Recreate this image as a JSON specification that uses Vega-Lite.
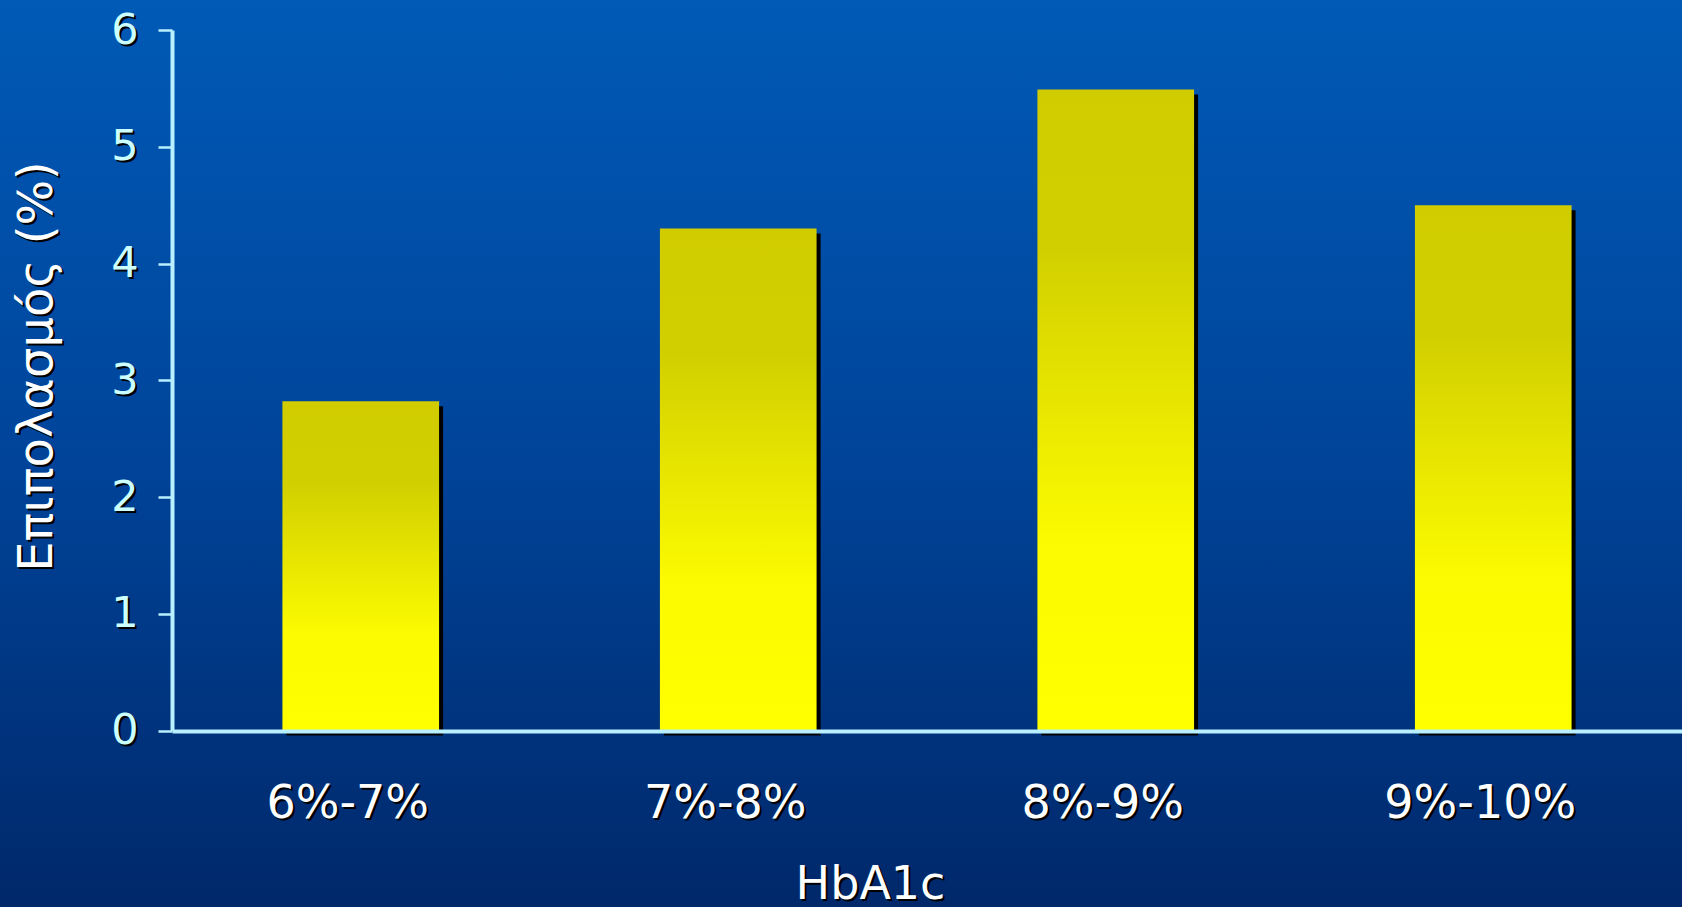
{
  "$schema": "https://vega.github.io/schema/vega-lite/v6.json",
  "width": 1682,
  "height": 907,
  "autosize": {"type": "none"},
  "padding": 0,
  "background": "#003f8c",
  "config": {
    "view": {"stroke": null},
    "font": "DejaVu Sans"
  },
  "datasets": {
    "bars": [
      {"hba1c": "6%-7%", "prevalence": 2.82},
      {"hba1c": "7%-8%", "prevalence": 4.3},
      {"hba1c": "8%-9%", "prevalence": 5.49},
      {"hba1c": "9%-10%", "prevalence": 4.5}
    ]
  },
  "resolve": {"axis": {"x": "independent", "y": "independent"}},
  "layer": [
    {
      "data": {"values": [{}]},
      "mark": {
        "type": "rect",
        "fill": {
          "gradient": "linear", "x1": 0, "y1": 0, "x2": 0, "y2": 1,
          "stops": [
            {"offset": 0, "color": "#005AB6"},
            {"offset": 0.5, "color": "#00449A"},
            {"offset": 1, "color": "#00286A"}
          ]
        }
      },
      "encoding": {}
    },
    {
      "data": {"name": "bars"},
      "mark": {"type": "bar", "color": "#000000", "xOffset": 4, "yOffset": 5},
      "encoding": {
        "x": {
          "field": "hba1c", "type": "nominal", "sort": null,
          "scale": {"range": [172, 1682], "paddingInner": 0.585, "paddingOuter": 0.2925},
          "axis": {
            "orient": "bottom",
            "offset": -176,
            "zindex": 1,
            "domain": false,
            "ticks": false,
            "tickSize": 0,
            "bandPosition": 0.5,
            "labelAngle": 0,
            "labelAlign": "center",
            "labelLimit": 500,
            "labelColor": "#000000",
            "labelFont": "DejaVu Sans",
            "labelFontSize": 46,
            "labelBaseline": "alphabetic",
            "labelPadding": 88,
            "labelOffset": -11,
            "title": "HbA1c",
            "titleColor": "#000000",
            "titleFont": "DejaVu Sans",
            "titleFontSize": 46,
            "titleFontWeight": "normal",
            "titleX": 872,
            "titleY": 169,
            "titleBaseline": "alphabetic",
            "titleAlign": "center"
          }
        },
        "y": {
          "field": "prevalence", "type": "quantitative",
          "scale": {"domain": [0, 6], "range": [730.5, 30], "nice": false},
          "axis": {
            "orient": "left",
            "offset": -172,
            "zindex": 1,
            "values": [0, 1, 2, 3, 4, 5, 6],
            "format": "d",
            "grid": false,
            "domain": false,
            "tickOpacity": 0,
            "tickSize": 14,
            "labelColor": "#000000",
            "labelFont": "DejaVu Sans",
            "labelFontSize": 43,
            "labelPadding": 18,
            "labelOffset": 2,
            "title": "Επιπολασμός (%)",
            "titleColor": "#000000",
            "titleFont": "DejaVu Sans",
            "titleFontSize": 48,
            "titleFontWeight": "normal",
            "titleAngle": -90,
            "titleX": -119,
            "titleY": 368,
            "titleBaseline": "alphabetic",
            "titleAlign": "center"
          }
        }
      }
    },
    {
      "data": {"name": "bars"},
      "mark": {
        "type": "bar",
        "fill": {
          "gradient": "linear", "x1": 0, "y1": 0, "x2": 0, "y2": 1,
          "stops": [
            {"offset": 0, "color": "#D0CC00"},
            {"offset": 0.25, "color": "#D2CF00"},
            {"offset": 0.7, "color": "#FBFA00"},
            {"offset": 1, "color": "#FFFF00"}
          ]
        }
      },
      "encoding": {
        "x": {
          "field": "hba1c", "type": "nominal", "sort": null,
          "axis": {
            "orient": "bottom",
            "offset": -176,
            "zindex": 1,
            "domainColor": "#B8F0FF",
            "domainWidth": 4,
            "ticks": false,
            "tickSize": 0,
            "bandPosition": 0.5,
            "labelAngle": 0,
            "labelAlign": "center",
            "labelLimit": 500,
            "labelColor": "#FFFFFF",
            "labelFont": "DejaVu Sans",
            "labelFontSize": 46,
            "labelBaseline": "alphabetic",
            "labelPadding": 86,
            "labelOffset": -13,
            "title": "HbA1c",
            "titleColor": "#FFFFFF",
            "titleFont": "DejaVu Sans",
            "titleFontSize": 46,
            "titleFontWeight": "normal",
            "titleX": 870,
            "titleY": 167,
            "titleBaseline": "alphabetic",
            "titleAlign": "center"
          }
        },
        "y": {
          "field": "prevalence", "type": "quantitative",
          "axis": {
            "orient": "left",
            "offset": -172,
            "zindex": 1,
            "values": [0, 1, 2, 3, 4, 5, 6],
            "format": "d",
            "grid": false,
            "domainColor": "#B8F0FF",
            "domainWidth": 4,
            "tickColor": "#B8F0FF",
            "tickWidth": 2.5,
            "tickSize": 14,
            "labelColor": "#CCFFFF",
            "labelFont": "DejaVu Sans",
            "labelFontSize": 43,
            "labelPadding": 20,
            "title": "Επιπολασμός (%)",
            "titleColor": "#FFFFFF",
            "titleFont": "DejaVu Sans",
            "titleFontSize": 48,
            "titleFontWeight": "normal",
            "titleAngle": -90,
            "titleX": -121,
            "titleY": 366,
            "titleBaseline": "alphabetic",
            "titleAlign": "center"
          }
        }
      }
    }
  ]
}
